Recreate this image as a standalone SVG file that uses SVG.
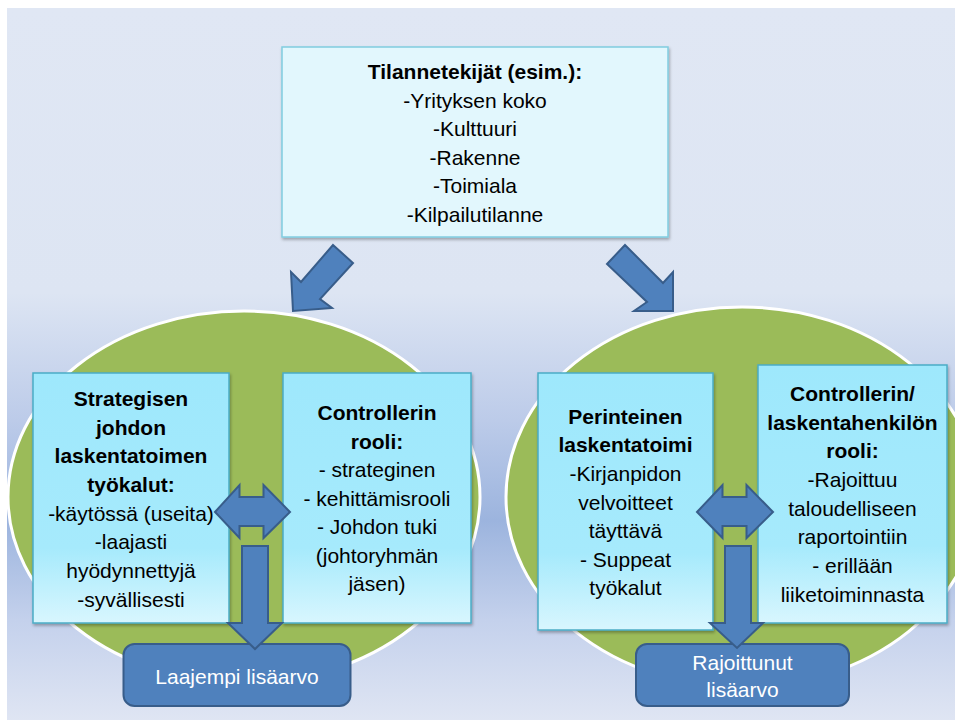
<svg xmlns="http://www.w3.org/2000/svg" width="955" height="722" viewBox="0 0 955 722">
<defs>
<linearGradient id="bg" x1="0" y1="0" x2="0" y2="1">
<stop offset="0" stop-color="#e0e7f4"/>
<stop offset="0.40" stop-color="#dde5f3"/>
<stop offset="0.58" stop-color="#bccbe9"/>
<stop offset="0.72" stop-color="#9cb4de"/>
<stop offset="0.86" stop-color="#c4d1ec"/>
<stop offset="1" stop-color="#dfe5f3"/>
</linearGradient>
<linearGradient id="boxg" x1="0" y1="0" x2="0" y2="1">
<stop offset="0" stop-color="#9ee8fc"/>
<stop offset="0.7" stop-color="#a6eafc"/>
<stop offset="1" stop-color="#d8f6fe"/>
</linearGradient>
<filter id="sh" x="-10%" y="-10%" width="120%" height="120%">
<feDropShadow dx="1" dy="2" stdDeviation="1.5" flood-color="#000" flood-opacity="0.3"/>
</filter>
</defs>
<style>
.t{font-family:"Liberation Sans",Arial,sans-serif;font-size:21px;fill:#000;text-anchor:middle}
.b{font-weight:bold}
.w{fill:#fff}
.ell{fill:#9bbb59;stroke:#fff;stroke-width:3}
.box{fill:url(#boxg);stroke:#4bacc6;stroke-width:1.5;filter:url(#sh)}
.top{fill:#e2f7fd;stroke:#80cde0;stroke-width:1.5;filter:url(#sh)}
.arr{fill:#4f81bd;stroke:#385d8a;stroke-width:2;stroke-linejoin:miter}
.res{fill:#4f81bd;stroke:#385d8a;stroke-width:2}
</style>
<rect x="7" y="8" width="948" height="712" fill="url(#bg)"/>
<g id="ellipse-left"><ellipse class="ell" cx="244" cy="497" rx="236" ry="186"/></g>
<g id="ellipse-right"><ellipse class="ell" cx="742" cy="497" rx="236" ry="190"/></g>
<g id="tilannetekijat">
<rect class="top" x="282" y="47" width="386" height="190"/>
<text class="t b" x="475" y="79">Tilannetekijät (esim.):</text>
<text class="t" x="475" y="107.5">-Yrityksen koko</text>
<text class="t" x="475" y="136">-Kulttuuri</text>
<text class="t" x="475" y="164.5">-Rakenne</text>
<text class="t" x="475" y="193">-Toimiala</text>
<text class="t" x="475" y="221.5">-Kilpailutilanne</text>
</g>
<g id="strategisen">
<rect class="box" x="33" y="373" width="196" height="250"/>
<text class="t b" x="131" y="406">Strategisen</text>
<text class="t b" x="131" y="434.7">johdon</text>
<text class="t b" x="131" y="463.4">laskentatoimen</text>
<text class="t b" x="131" y="492">työkalut:</text>
<text class="t" x="131" y="520.7">-käytössä (useita)</text>
<text class="t" x="131" y="549.4">-laajasti</text>
<text class="t" x="131" y="578">hyödynnettyjä</text>
<text class="t" x="131" y="606.7">-syvällisesti</text>
</g>
<g id="controllerin">
<rect class="box" x="283" y="373" width="188" height="250"/>
<text class="t b" x="377" y="420">Controllerin</text>
<text class="t b" x="377" y="448.5">rooli:</text>
<text class="t" x="377" y="477">- strateginen</text>
<text class="t" x="377" y="505.5">- kehittämisrooli</text>
<text class="t" x="377" y="534">- Johdon tuki</text>
<text class="t" x="377" y="562.5">(johtoryhmän</text>
<text class="t" x="377" y="591">jäsen)</text>
</g>
<g id="perinteinen">
<rect class="box" x="538" y="373" width="175" height="257"/>
<text class="t b" x="625.5" y="423.5">Perinteinen</text>
<text class="t b" x="625.5" y="452">laskentatoimi</text>
<text class="t" x="625.5" y="481">-Kirjanpidon</text>
<text class="t" x="625.5" y="509.5">velvoitteet</text>
<text class="t" x="625.5" y="538">täyttävä</text>
<text class="t" x="625.5" y="566.5">- Suppeat</text>
<text class="t" x="625.5" y="595">työkalut</text>
</g>
<g id="controllerin-laskentahenkilo">
<rect class="box" x="758" y="365" width="189" height="258"/>
<text class="t b" x="852.5" y="401">Controllerin/</text>
<text class="t b" x="852.5" y="429.5">laskentahenkilön</text>
<text class="t b" x="852.5" y="458">rooli:</text>
<text class="t" x="852.5" y="487">-Rajoittuu</text>
<text class="t" x="852.5" y="515.5">taloudelliseen</text>
<text class="t" x="852.5" y="544">raportointiin</text>
<text class="t" x="852.5" y="573">- erillään</text>
<text class="t" x="852.5" y="601.5">liiketoiminnasta</text>
</g>
<g id="laajempi">
<rect class="res" x="123.5" y="644" width="227" height="62" rx="11"/>
<text class="t w" x="237" y="684">Laajempi lisäarvo</text>
</g>
<g id="rajoittunut">
<rect class="res" x="636" y="644" width="213" height="62" rx="11"/>
<text class="t w" x="742.5" y="669.5">Rajoittunut</text>
<text class="t w" x="742.5" y="697">lisäarvo</text>
</g>
<g id="connectors">
<polygon class="arr" points="333,245 353,263 320,299 332,308 293,311 291,272 301,282"/>
<polygon class="arr" points="625,245 663,283 673,272 673,311 634,311 647,302 607,264"/>
<polygon class="arr" points="215,512 239.5,485 239.5,497 263.5,497 263.5,485 290,512 263.5,538 263.5,526 239.5,526 239.5,538"/>
<polygon class="arr" points="697,512 722.5,485 722.5,497 746.5,497 746.5,485 773,512 746.5,538 746.5,526 722.5,526 722.5,538"/>
<polygon class="arr" points="242,546 268,546 268,623 282,623 255,649 228,623 242,623"/>
<polygon class="arr" points="725,546 751,546 751,623 763,623 737,648 710,623 725,623"/>
</g>
</svg>
